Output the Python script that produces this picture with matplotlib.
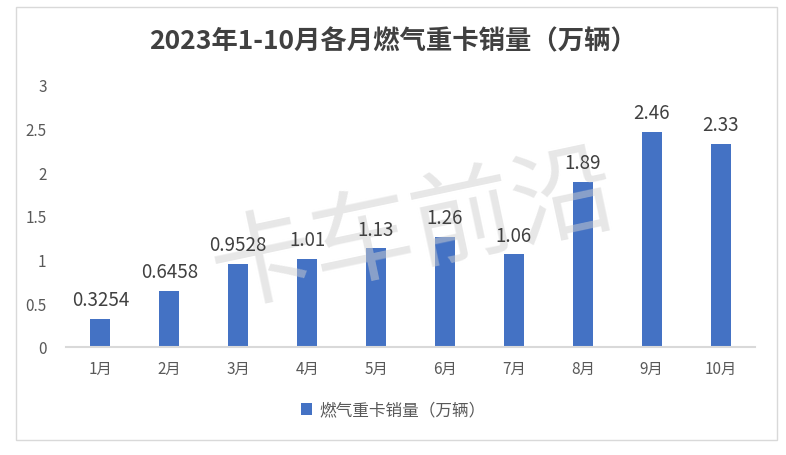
import matplotlib.pyplot as plt
from matplotlib.patches import Rectangle

plt.rcParams['font.family'] = ['Noto Sans CJK SC', 'DejaVu Sans']

# monthly sales of gas-fuelled heavy trucks (10k units)
months = ['1月', '2月', '3月', '4月', '5月', '6月', '7月', '8月', '9月', '10月']
sales = [0.3254, 0.6458, 0.9528, 1.01, 1.13, 1.26, 1.06, 1.89, 2.46, 2.33]
labels = ['0.3254', '0.6458', '0.9528', '1.01', '1.13', '1.26', '1.06', '1.89', '2.46', '2.33']
yticks = [0, 0.5, 1, 1.5, 2, 2.5, 3]
yticklabels = ['0', '0.5', '1', '1.5', '2', '2.5', '3']

color_bar = '#4472C4'
color_txt = '#595959'

fig = plt.figure(figsize=(7.86, 4.56), dpi=100)
fig.patches.append(Rectangle((16/786, 1 - 441/456), 761/786, 433/456,
                             transform=fig.transFigure, fill=False,
                             edgecolor='#D9D9D9', linewidth=1))

ax = fig.add_axes([66/786, 1 - 348/456, 689/786, 262/456])
x = range(len(months))
ax.bar(x, sales, width=0.29, color=color_bar, zorder=2, label='燃气重卡销量（万辆）')
for i, (v, t) in enumerate(zip(sales, labels)):
    ax.text(i, v + 0.1, t, ha='center', va='bottom', fontsize=13.5, color='#404040',
            zorder=4)

ax.set_xlim(-0.5, len(months) - 0.5)
ax.set_ylim(0, 3)
ax.set_xticks(list(x))
ax.set_xticklabels(months, fontsize=11, color=color_txt)
ax.set_yticks(yticks)
ax.set_yticklabels(yticklabels, fontsize=11, color=color_txt)
ax.tick_params(length=0)
ax.tick_params(axis='x', pad=9)
ax.tick_params(axis='y', pad=14)
for s in ['top', 'right', 'left']:
    ax.spines[s].set_visible(False)
ax.spines['bottom'].set_color('#D9D9D9')
ax.spines['bottom'].set_linewidth(1.5)

# watermark, above the bars but under the value labels
ax.text(0.527, 0.49, '卡车前沿', fontsize=74, color='#D0D0D0', alpha=0.5,
        rotation=12, ha='center', va='center', zorder=3,
        transform=fig.transFigure, clip_on=False)

fig.text(0.5, 1 - 42/456, '2023年1-10月各月燃气重卡销量（万辆）', ha='center', va='center',
         fontsize=19, fontweight='bold', color='#404040')

fig.legend(loc='center', bbox_to_anchor=(0.5, 1 - 411/456), frameon=False,
           fontsize=12, labelcolor=color_txt, handlelength=0.7, handleheight=0.7,
           handletextpad=0.4)

fig.savefig('out.png', dpi=100)
